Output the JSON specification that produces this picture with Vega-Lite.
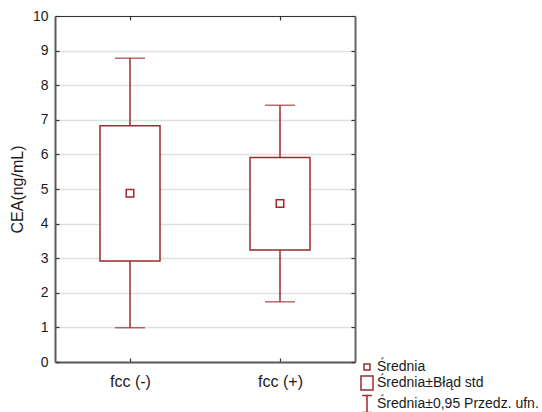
{
  "$schema": "https://vega.github.io/schema/vega-lite/v6.json",
  "width": 300,
  "height": 346,
  "autosize": {"type": "none"},
  "padding": {"left": 55, "top": 16, "right": 187, "bottom": 50},
  "background": "white",
  "config": {
    "view": {"stroke": null},
    "font": "Liberation Sans",
    "axis": {
      "labelFont": "Liberation Sans",
      "titleFont": "Liberation Sans",
      "labelColor": "#1a1a1a",
      "titleColor": "#1a1a1a",
      "tickColor": "#333333",
      "tickWidth": 1.2
    }
  },
  "data": {
    "values": [
      {"grupa": "fcc (-)", "srednia": 4.88, "se_lo": 2.92, "se_hi": 6.83, "ci_lo": 0.99, "ci_hi": 8.78},
      {"grupa": "fcc (+)", "srednia": 4.58, "se_lo": 3.24, "se_hi": 5.91, "ci_lo": 1.74, "ci_hi": 7.42}
    ]
  },
  "resolve": {"axis": {"x": "independent", "y": "independent"}},
  "layer": [
    {
      "mark": {"type": "rule", "color": "#9a2b2e", "strokeWidth": 1.5},
      "encoding": {
        "x": {
          "field": "grupa", "type": "nominal",
          "scale": {"type": "point", "padding": 0.5, "domain": ["fcc (-)", "fcc (+)"]},
          "sort": null,
          "axis": {
            "orient": "bottom", "title": null, "labelAngle": 0,
            "labelFontSize": 16, "labelPadding": 15,
            "tickSize": -4, "domainColor": "#5a5a5a", "domainWidth": 2
          }
        },
        "y": {
          "field": "ci_lo", "type": "quantitative",
          "scale": {"domain": [0, 10], "nice": false, "zero": true},
          "axis": {
            "orient": "left", "title": "CEA(ng/mL)", "values": [0, 1, 2, 3, 4, 5, 6, 7, 8, 9, 10],
            "labelFontSize": 14, "labelPadding": 11, "tickSize": -4,
            "grid": true, "gridColor": "#e0e0e0", "gridWidth": 1.5,
            "domainColor": "#5a5a5a", "domainWidth": 2,
            "titleFontSize": 16, "titleFontWeight": "normal",
            "titleX": -38, "titleY": 173, "titleBaseline": "middle", "titleAlign": "center"
          }
        },
        "y2": {"field": "ci_hi"}
      }
    },
    {
      "mark": {"type": "bar", "size": 60, "fill": "white", "stroke": "#9a2b2e", "strokeWidth": 1.5},
      "encoding": {
        "x": {
          "field": "grupa", "type": "nominal", "sort": null,
          "axis": {
            "orient": "top", "title": null, "labels": false,
            "tickSize": -4, "domainColor": "#333333", "domainWidth": 1.2
          }
        },
        "y": {
          "field": "se_lo", "type": "quantitative",
          "axis": {
            "orient": "right", "title": null, "labels": false, "grid": false,
            "values": [0, 1, 2, 3, 4, 5, 6, 7, 8, 9, 10],
            "tickSize": -4, "domainColor": "#666666", "domainWidth": 2
          }
        },
        "y2": {"field": "se_hi"}
      }
    },
    {
      "mark": {"type": "tick", "orient": "horizontal", "size": 30, "thickness": 1.5, "color": "#9a2b2e"},
      "encoding": {
        "x": {"field": "grupa", "type": "nominal", "sort": null, "axis": null},
        "y": {"field": "ci_lo", "type": "quantitative", "axis": null}
      }
    },
    {
      "mark": {"type": "tick", "orient": "horizontal", "size": 30, "thickness": 1.5, "color": "#9a2b2e"},
      "encoding": {
        "x": {"field": "grupa", "type": "nominal", "sort": null, "axis": null},
        "y": {"field": "ci_hi", "type": "quantitative", "axis": null}
      }
    },
    {
      "mark": {"type": "point", "filled": false, "color": "#9a2b2e", "strokeWidth": 1.5, "size": 320, "opacity": 1},
      "encoding": {
        "x": {"field": "grupa", "type": "nominal", "sort": null, "axis": null},
        "y": {"field": "srednia", "type": "quantitative", "axis": null},
        "shape": {
          "datum": "Średnia",
          "scale": {
            "domain": ["Średnia", "Średnia±Błąd std", "Średnia±0,95 Przedz. ufn."],
            "range": [
              "M-0.42,-0.42H0.42V0.42H-0.42Z",
              "M-0.86,-1H0.86V1H-0.86Z",
              "M-0.7,-1.2H0.7M0,-1.2V1.2M-0.7,1.2H0.7"
            ]
          },
          "legend": {
            "title": null,
            "orient": "none",
            "legendX": 304,
            "legendY": 343,
            "padding": 0,
            "symbolSize": 196,
            "symbolStrokeWidth": 1.5,
            "symbolStrokeColor": "#9a2b2e",
            "symbolFillColor": "transparent",
            "symbolOpacity": 1,
            "labelFont": "Liberation Sans",
            "labelFontSize": 14,
            "labelColor": "#1a1a1a",
            "labelOffset": 2,
            "rowPadding": -1,
            "labelLimit": 300
          }
        }
      }
    }
  ]
}
